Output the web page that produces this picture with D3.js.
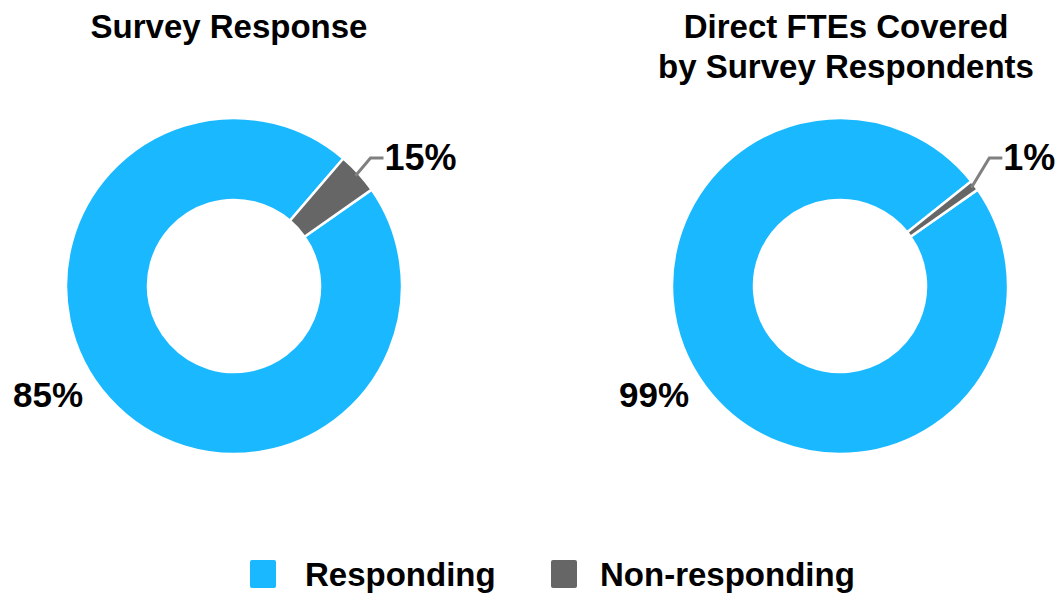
<!DOCTYPE html>
<html>
<head>
<meta charset="utf-8">
<script src="https://cdn.jsdelivr.net/npm/d3@7"></script>
<style>
  body { margin: 0; background: #fff; }
  text { font-family: "Liberation Sans", Arial, sans-serif; font-weight: bold; fill: #000; }
</style>
</head>
<body>
<div id="chart"></div>
<script>
// chart data
var categories = ["Responding", "Non-responding"];
var titles = [["Survey Response"], ["Direct FTEs Covered", "by Survey Respondents"]];
// slice sizes as drawn in the picture (the left slice is drawn smaller than its label says)
var respondingShare = [96, 99];
var nonRespondingShare = [4, 1];
var respondingLabels = ["85%", "99%"];
var nonRespondingLabels = ["15%", "1%"];

var colors = ["#1ab9ff", "#666666"];

var svgWidth = 1058;
var svgHeight = 593;

var svg = d3.select("#chart")
  .append("svg")
  .attr("width", svgWidth)
  .attr("height", svgHeight);

var outerR = 168;
var innerR = 86;
var centersX = d3.scalePoint().domain([0, 1]).range([234, 840]);
var centerY = 286;
var titleX = [229, 846];
var elbowShift = [15, 18];

var color = d3.scaleOrdinal().domain(categories).range(colors);

var pie = d3.pie()
  .sort(null)
  .value(d => d.value)
  .startAngle(55 * Math.PI / 180)
  .endAngle((55 + 360) * Math.PI / 180);

var arc = d3.arc().innerRadius(innerR).outerRadius(outerR);

[0, 1].forEach(function(i) {
  var cx = centersX(i);
  var data = [
    {name: categories[0], value: respondingShare[i], label: respondingLabels[i]},
    {name: categories[1], value: nonRespondingShare[i], label: nonRespondingLabels[i]}
  ];
  var arcs = pie(data);

  var g = svg.append("g")
    .attr("transform", `translate(${cx}, ${centerY})`);

  g.selectAll("path")
    .data(arcs)
    .enter()
    .append("path")
    .attr("d", arc)
    .attr("fill", d => color(d.data.name))
    .attr("stroke", "#fff")
    .attr("stroke-width", 2.5);

  // title
  svg.append("text")
    .attr("x", titleX[i])
    .attr("y", 38)
    .attr("text-anchor", "middle")
    .style("font-size", "33px")
    .selectAll("tspan")
    .data(titles[i])
    .enter()
    .append("tspan")
    .attr("x", titleX[i])
    .attr("dy", (d, j) => j === 0 ? 0 : 40)
    .text(d => d);

  // big label for responding slice
  g.append("text")
    .attr("x", -186)
    .attr("y", 121)
    .attr("text-anchor", "middle")
    .style("font-size", "35px")
    .text(arcs[0].data.label);

  // leader line for the small slice
  var small = arcs[1];
  var mid = (small.startAngle + small.endAngle) / 2;
  var sx = Math.sin(mid) * (outerR - 4);
  var sy = -Math.cos(mid) * (outerR - 4);
  var ex = sx + elbowShift[i];
  var ey = -128;
  g.append("polyline")
    .attr("points", `${sx},${sy} ${ex},${ey} ${ex + 13},${ey}`)
    .attr("fill", "none")
    .attr("stroke", "#808080")
    .attr("stroke-width", 3);

  g.append("text")
    .attr("x", ex + 14)
    .attr("y", ey + 12)
    .style("font-size", "36px")
    .text(small.data.label);
});

// legend
var legendX = [250, 551];
var legendTextX = [55, 49];
var legend = svg.selectAll(".legend")
  .data(categories)
  .enter()
  .append("g")
  .attr("class", "legend")
  .attr("transform", (d, i) => `translate(${legendX[i]}, 560)`);

legend.append("rect")
  .attr("width", 26)
  .attr("height", 28)
  .attr("rx", 2)
  .attr("fill", d => color(d));

legend.append("text")
  .attr("x", (d, i) => legendTextX[i])
  .attr("y", 26)
  .style("font-size", "33px")
  .text(d => d);
</script>
</body>
</html>
